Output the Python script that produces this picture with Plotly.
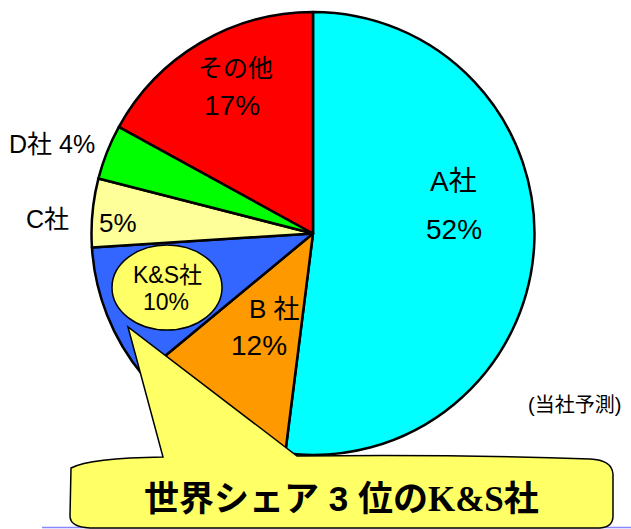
import plotly.graph_objects as go

# ---- data ----
labels = ["A社", "B 社", "K&S社", "C社", "D社", "その他"]
values = [52, 12, 10, 5, 4, 17]
colors = ["#00FFFF", "#FF9900", "#3366FF", "#FFFF99", "#00FF00", "#FF0000"]
note = "(当社予測)"
callout = "世界シェア<span style=\"font-family:'Liberation Sans'\"> 3 </span>位の<span style=\"font-family:'Liberation Serif'\">K&amp;S</span>社"

W, H = 631, 529


def px(x):
    return x / W


def py(y):
    return 1 - y / H


FONT = "'Liberation Sans', Arial, 'Noto Sans CJK JP'"

fig = go.Figure()
fig.add_trace(go.Pie(
    labels=labels,
    values=values,
    sort=False,
    direction="clockwise",
    rotation=0,
    marker=dict(colors=colors, line=dict(color="black", width=2.5)),
    textinfo="none",
    hoverinfo="label+percent",
    showlegend=False,
    domain=dict(x=[px(91), px(535)], y=[py(455), py(12)]),
))

shapes = []
# callout bubble with pointer
pts = [
    ("M", [(128, 327)]),
    ("L", [(163, 457)]),
    ("Q", [(90, 458), (71, 468)]),
    ("L", [(70, 516)]),
    ("Q", [(70, 527), (90, 528)]),
    ("L", [(600, 528)]),
    ("Q", [(613, 527), (613, 516)]),
    ("L", [(613, 474)]),
    ("Q", [(612, 460), (590, 459)]),
    ("Q", [(450, 454), (297, 456)]),
    ("Z", []),
]
path = ""
for cmd, cs in pts:
    path += cmd + " " + " ".join(f"{px(x):.5f},{py(y):.5f}" for x, y in cs) + " "
shapes.append(dict(type="path", xref="paper", yref="paper", path=path,
                   fillcolor="#FFFF66", line=dict(color="black", width=1.5), layer="above"))
# K&S ellipse
shapes.append(dict(type="circle", xref="paper", yref="paper",
                   x0=px(112), x1=px(222), y0=py(330), y1=py(245),
                   fillcolor="#FFFF66", line=dict(color="black", width=1.5), layer="above"))
# bottom thin line
shapes.append(dict(type="line", xref="paper", yref="paper",
                   x0=px(42), x1=px(631), y0=py(527.5), y1=py(527.5),
                   line=dict(color="#8888FF", width=1.5), layer="below"))

ann = []


def add(text, x, y, size, family=FONT, bold=False):
    ann.append(dict(text=f"<b>{text}</b>" if bold else text, x=px(x), y=py(y), xref="paper", yref="paper",
                    xanchor="center", yanchor="middle", showarrow=False,
                    font=dict(size=size, color="black", family=family)))


# A
add(labels[0], 453, 182, 28)
add(f"{values[0]}%", 454, 230, 28)
# B
add(labels[1], 274, 309, 26)
add(f"{values[1]}%", 259, 345, 28)
# K&S
add(labels[2], 167, 275, 23)
add(f"{values[2]}%", 166, 302, 23)
# C
add(labels[3], 47, 219, 25)
add(f"{values[3]}%", 118, 223, 26)
# D
add(f"{labels[4]} {values[4]}%", 52, 144, 25)
# other
add(labels[5], 235, 68, 25)
add(f"{values[5]}%", 232, 105, 28)
# note
add(note, 574, 405, 20)
# callout
add(callout, 341, 495, 35, "'Noto Sans CJK JP'", bold=True)

fig.update_layout(
    width=W, height=H,
    margin=dict(l=0, r=0, t=0, b=0),
    paper_bgcolor="white", plot_bgcolor="white",
    shapes=shapes, annotations=ann,
)
fig.write_html("out.html", config={"displayModeBar": False},
               post_script="document.body.style.margin='0';document.body.style.overflow='hidden';")
